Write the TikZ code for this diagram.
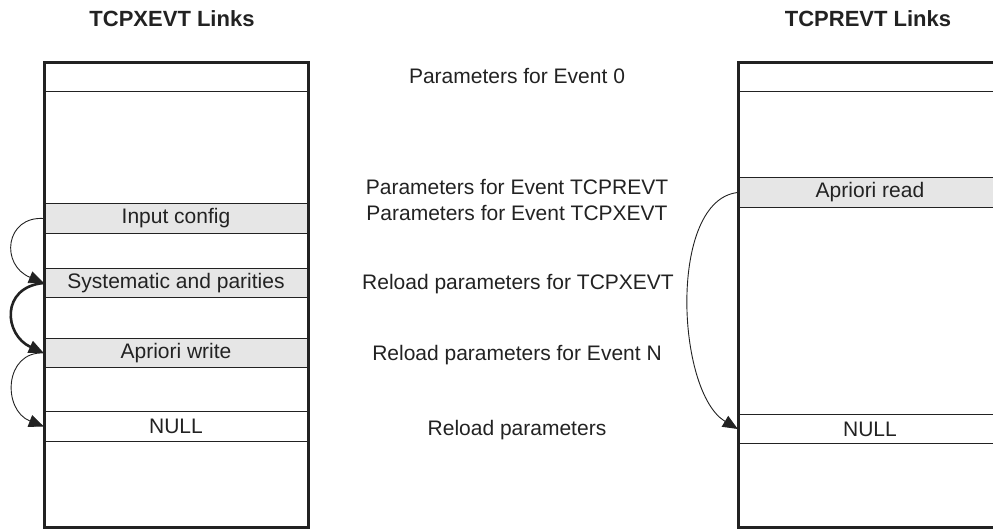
\documentclass[tikz,border=0pt]{standalone}
\usepackage{fontspec}
\setmainfont{Liberation Sans}
\usetikzlibrary{arrows.meta}
\definecolor{ink}{HTML}{222222}
\definecolor{rowfill}{HTML}{E6E6E6}
\tikzset{
  txt/.style={font=\fontsize{21}{25}\selectfont, text=ink, inner sep=0pt},
  ttl/.style={font=\fontsize{22}{26}\selectfont\bfseries, text=ink, inner sep=0pt},
  row/.style={txt, minimum width=264pt, minimum height=29pt},
  hot/.style={row, fill=rowfill},
  sep/.style={draw=ink, line width=1.2pt},
  frame/.style={draw=ink, line width=3pt, minimum width=264pt, minimum height=464.8pt, inner sep=0pt},
  link/.style={draw=ink, line width=0.9pt, -{Triangle[length=15pt,width=12.5pt]}},
  boldlink/.style={draw=ink, line width=2.6pt, -{Triangle[length=15pt,width=12.5pt]}},
}
\begin{document}
\begin{tikzpicture}[x=1pt, y=-1pt]
\useasboundingbox (0,0) rectangle (993,529);
\clip (0,0) rectangle (993,529);

% titles
\node[ttl] (ltitle) at (172,19) {TCPXEVT Links};
\node[ttl] (rtitle) at (868,19) {TCPREVT Links};

% left table rows
\node[row] (ltop) at (176,77.2) {};
\node[hot] (lin) at (176,218.5) {Input config};
\node[hot] (lsys) at (176,283) {Systematic and parities};
\node[hot] (lapw) at (176,353) {Apriori write};
\node[row] (lnull) at (176,426.5) {NULL};

% right table rows
\node[row] (rtop) at (870,77.2) {};
\node[hot] (rread) at (870,192.5) {Apriori read};
\node[row] (rnull) at (870,429) {NULL};

% row separators
\foreach \r in {lin,lsys,lapw,lnull,rread,rnull}{
  \draw[sep] (\r.north west) -- (\r.north east);
  \draw[sep] (\r.south west) -- (\r.south east);
}
\draw[sep] (ltop.south west) -- (ltop.south east);
\draw[sep] (rtop.south west) -- (rtop.south east);

% descriptions between the tables
\node[txt] (d0) at (517,76) {Parameters for Event 0};
\node[txt] (d1) at (517,187) {Parameters for Event TCPREVT};
\node[txt] (d2) at (517,213) {Parameters for Event TCPXEVT};
\node[txt] (d3) at (518,284.5) {Reload parameters for TCPXEVT};
\node[txt] (d4) at (517,355) {Reload parameters for Event N};
\node[txt] (d5) at (517,430) {Reload parameters};

% link chains
\draw[link] (lin.west) .. controls (5,216) and (0,265) .. (lsys.west);
\draw[boldlink] (lsys.west) .. controls (0,287) and (4,335) .. (lapw.west);
\draw[link] (lapw.west) .. controls (4,351) and (2,410) .. (lnull.west);
\draw[link] (rread.west) .. controls (668,200) and (676,392) .. (rnull.west);

% table frames
\node[frame] (lbox) at (176,295.1) {};
\node[frame] (rbox) at (870,295.1) {};
\end{tikzpicture}
\end{document}
